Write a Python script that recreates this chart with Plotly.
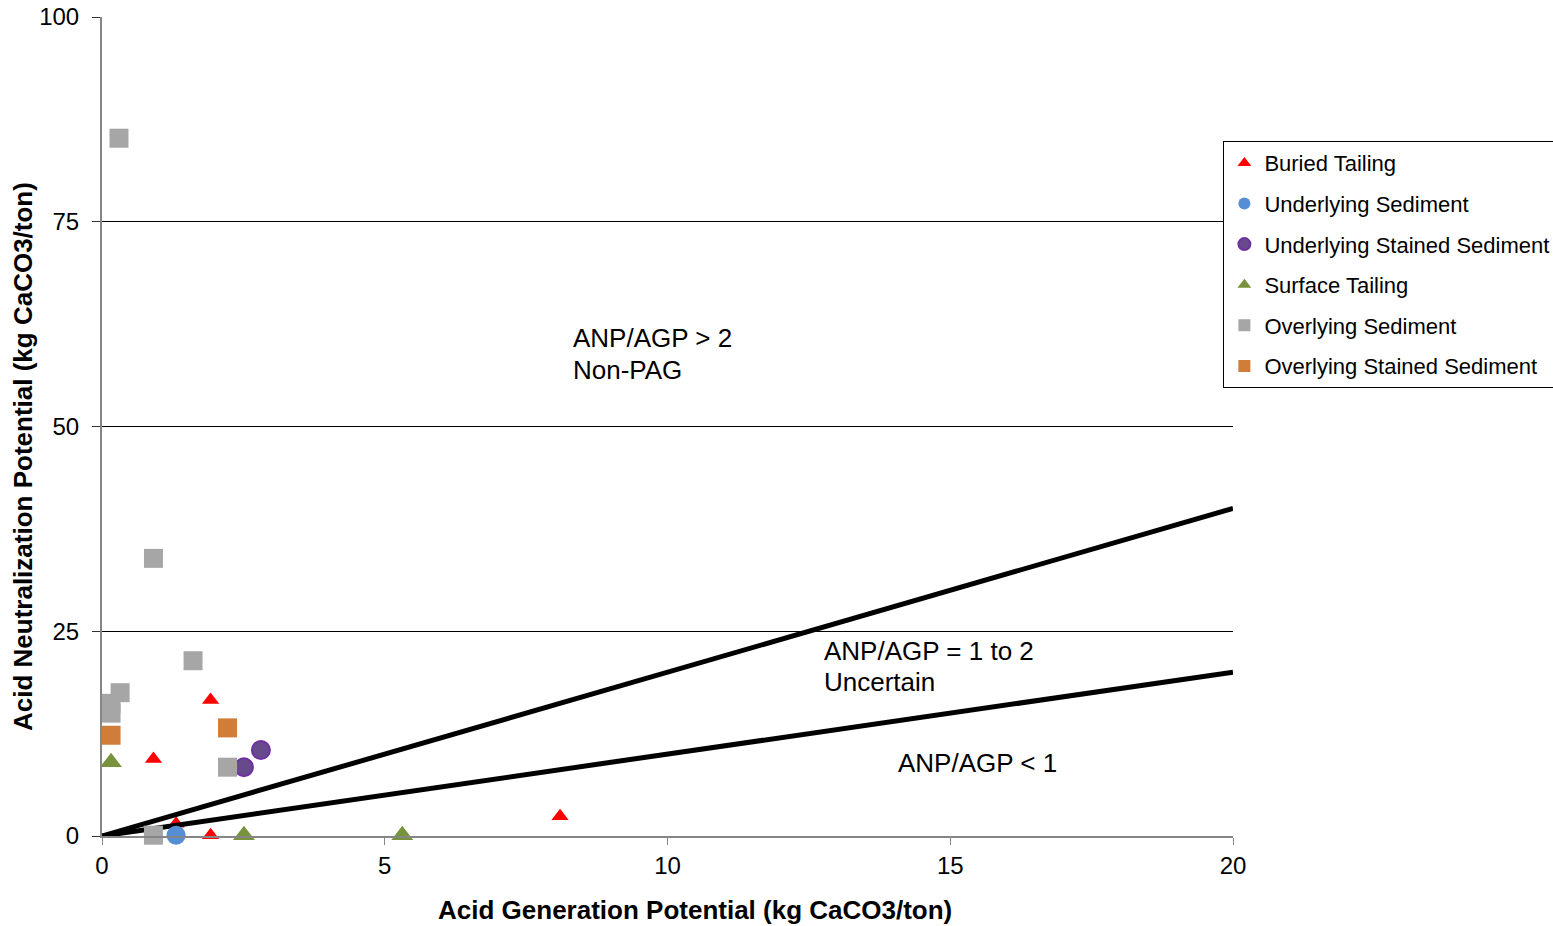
import plotly.graph_objects as go

# ---- data ----
buried_x = [1.92, 0.91, 1.31, 1.92, 8.10]
buried_y = [16.6, 9.4, 1.5, 0.1, 2.4]

under_x = [1.31]
under_y = [0.1]

under_st_x = [2.51, 2.81]
under_st_y = [8.4, 10.5]

surface_x = [0.16, 2.51, 5.31]
surface_y = [9.0, 0.1, 0.1]

over_x = [0.30, 0.91, 1.61, 0.32, 0.16, 0.16, 2.22, 0.91]
over_y = [85.2, 33.9, 21.4, 17.5, 16.2, 15.0, 8.4, 0.1]

over_st_x = [0.16, 2.22]
over_st_y = [12.3, 13.2]

ratio_line_x = [0, 20]
ratio2_y = [0, 40]
ratio1_y = [0, 20]

x_ticks = [0, 5, 10, 15, 20]
y_ticks = [0, 25, 50, 75, 100]

FONT = "Liberation Sans, Arial, sans-serif"

fig = go.Figure()

fig.add_trace(go.Scatter(
    x=buried_x, y=buried_y, mode="markers", name="Buried Tailing",
    legendgroup="a", cliponaxis=False,
    marker=dict(symbol="triangle-up", size=15, color="#FF0000")))

fig.add_trace(go.Scatter(x=ratio_line_x, y=ratio2_y, mode="lines", showlegend=False,
                         line=dict(color="black", width=5), cliponaxis=False, hoverinfo="skip"))
fig.add_trace(go.Scatter(x=ratio_line_x, y=ratio1_y, mode="lines", showlegend=False,
                         line=dict(color="black", width=5), cliponaxis=False, hoverinfo="skip"))

fig.add_trace(go.Scatter(
    x=under_x, y=under_y, mode="markers", name="Underlying Sediment",
    legendgroup="b", cliponaxis=False,
    marker=dict(symbol="circle", size=19, color="#558ED5")))

fig.add_trace(go.Scatter(
    x=under_st_x, y=under_st_y, mode="markers", name="Underlying Stained Sediment",
    legendgroup="c", cliponaxis=False,
    marker=dict(symbol="circle", size=18, color="#664A8C",
                line=dict(color="#7030A0", width=2))))

fig.add_trace(go.Scatter(
    x=surface_x, y=surface_y, mode="markers", name="Surface Tailing",
    legendgroup="d", cliponaxis=False,
    marker=dict(symbol="triangle-up", size=19, color="#77933C")))

fig.add_trace(go.Scatter(
    x=over_x, y=over_y, mode="markers", name="Overlying Sediment",
    legendgroup="e", cliponaxis=False,
    marker=dict(symbol="square", size=19, color="#A6A6A6")))

fig.add_trace(go.Scatter(
    x=over_st_x, y=over_st_y, mode="markers", name="Overlying Stained Sediment",
    legendgroup="f", cliponaxis=False,
    marker=dict(symbol="square", size=19, color="#D07D3A")))

def note(x, y, text):
    return dict(x=x, y=y, xref="x", yref="y", text=text, showarrow=False,
                xanchor="left", yanchor="middle", align="left",
                font=dict(family=FONT, size=26, color="black"))

annotations = [
    note(8.29, 60.75, "ANP/AGP > 2"),
    note(8.29, 56.95, "Non-PAG"),
    note(12.74, 22.65, "ANP/AGP = 1 to 2"),
    note(12.74, 18.85, "Uncertain"),
    note(14.04, 8.9, "ANP/AGP < 1"),
    dict(x=0.5243, y=-0.0904, xref="paper", yref="paper",
         text="<b>Acid Generation Potential (kg CaCO3/ton)</b>",
         showarrow=False, xanchor="center", yanchor="middle",
         font=dict(family=FONT, size=26, color="black")),
    dict(x=-0.0698, y=0.4628, xref="paper", yref="paper",
         text="<b>Acid Neutralization Potential (kg CaCO3/ton)</b>",
         showarrow=False, xanchor="center", yanchor="middle", textangle=-90,
         font=dict(family=FONT, size=26, color="black")),
]

fig.update_layout(
    width=1553, height=926,
    margin=dict(l=102, r=320, t=17, b=90, autoexpand=False),
    paper_bgcolor="white", plot_bgcolor="white",
    font=dict(family=FONT, size=24, color="black"),
    showlegend=True,
    legend=dict(x=0.9915, y=0.8485, xanchor="left", yanchor="top",
                bgcolor="white", bordercolor="black", borderwidth=1,
                font=dict(family=FONT, size=22, color="black"),
                itemsizing="constant", tracegroupgap=9, traceorder="grouped"),
    annotations=annotations,
)

fig.update_xaxes(range=[0, 20], tickvals=x_ticks, ticktext=[str(v) for v in x_ticks],
                 showgrid=False, zeroline=False, showline=True, linecolor="#868686", linewidth=2,
                 ticks="outside", ticklen=7, tickcolor="#868686", tickwidth=1,
                 tickfont=dict(family=FONT, size=24, color="black"))
fig.update_yaxes(range=[0, 100], tickvals=y_ticks, ticktext=[str(v) for v in y_ticks],
                 showgrid=True, gridcolor="black", gridwidth=1, zeroline=False,
                 showline=True, linecolor="#868686", linewidth=2,
                 ticks="outside", ticklen=8, tickcolor="#333333", tickwidth=1,
                 ticklabelstandoff=8,
                 tickfont=dict(family=FONT, size=24, color="black"))

fig.write_html("out.html")
